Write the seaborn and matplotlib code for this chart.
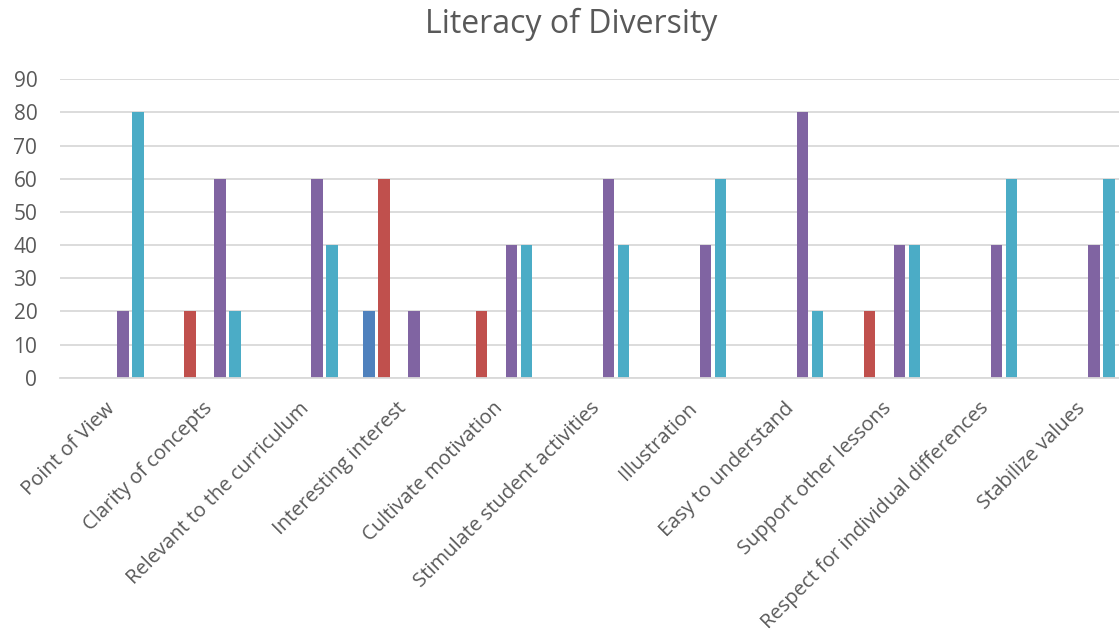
import matplotlib
matplotlib.use("Agg")
import matplotlib.pyplot as plt
from matplotlib.transforms import ScaledTranslation
import seaborn as sns
import pandas as pd

categories = ["Point of View", "Clarity of concepts", "Relevant to the curriculum",
              "Interesting interest", "Cultivate motivation", "Stimulate student activities",
              "Illustration", "Easy to understand", "Support other lessons",
              "Respect for individual differences", "Stabilize values"]
series_names = ["Series1", "Series2", "Series3", "Series4", "Series5"]
series1 = [0, 0, 0, 20, 0, 0, 0, 0, 0, 0, 0]
series2 = [0, 20, 0, 60, 20, 0, 0, 0, 20, 0, 0]
series3 = [0, 0, 0, 0, 0, 0, 0, 0, 0, 0, 0]
series4 = [20, 60, 60, 20, 40, 60, 40, 80, 40, 40, 40]
series5 = [80, 20, 40, 0, 40, 40, 60, 20, 40, 60, 60]
colors = ["#4F81BD", "#C0504D", "#9BBB59", "#8064A2", "#4BACC6"]
title = "Literacy of Diversity"
yticks = [0, 10, 20, 30, 40, 50, 60, 70, 80, 90]

rows = []
for name, vals in zip(series_names, [series1, series2, series3, series4, series5]):
    for c, v in zip(categories, vals):
        rows.append({"category": c, "series": name, "value": v})
df = pd.DataFrame(rows)

sns.set_style("white")
plt.rcParams["font.family"] = ["Open Sans", "DejaVu Sans"]

W, H = 1119, 639
fig = plt.figure(figsize=(W / 100, H / 100), dpi=100)
left_px, right_px, top_px, bottom_px = 59.5, 1119, 79.3, 377.7
ax = fig.add_axes([left_px / W, (H - bottom_px) / H, (right_px - left_px) / W, (bottom_px - top_px) / H])

sns.barplot(data=df, x="category", y="value", hue="series", order=categories,
            hue_order=series_names, palette=colors, saturation=1, width=0.773, gap=0.23,
            legend=False, linewidth=0, ax=ax, errorbar=None)

step = 97.07
ax.set_xlim(-0.5, -0.5 + (right_px - left_px) / step)
ax.set_ylim(0, 90)
ax.set_yticks(yticks)
ax.set_xlabel("")
ax.set_ylabel("")
ax.grid(axis="y", color="#D9D9D9", linewidth=1.3)
ax.grid(axis="x", visible=False)
ax.set_axisbelow(True)
for s in ["top", "right", "left"]:
    ax.spines[s].set_visible(False)
ax.spines["bottom"].set_color("#D9D9D9")
ax.spines["bottom"].set_linewidth(1.3)

ax.tick_params(axis="y", length=0, pad=16, labelsize=15, labelcolor="#595959")
ax.tick_params(axis="x", length=0, pad=20, labelsize=14.5, labelcolor="#595959")
ax.set_xticks(range(len(categories)))
ax.set_xticklabels(categories, rotation=45, ha="right", va="center", rotation_mode="anchor")
for lbl in ax.get_xticklabels():
    lbl.set_transform(lbl.get_transform() + ScaledTranslation(4 / 100, 0, fig.dpi_scale_trans))

fig.text(571 / W, 1 - 24 / H, title, ha="center", va="center", fontsize=23, color="#595959")

fig.savefig("out.png", dpi=100)
